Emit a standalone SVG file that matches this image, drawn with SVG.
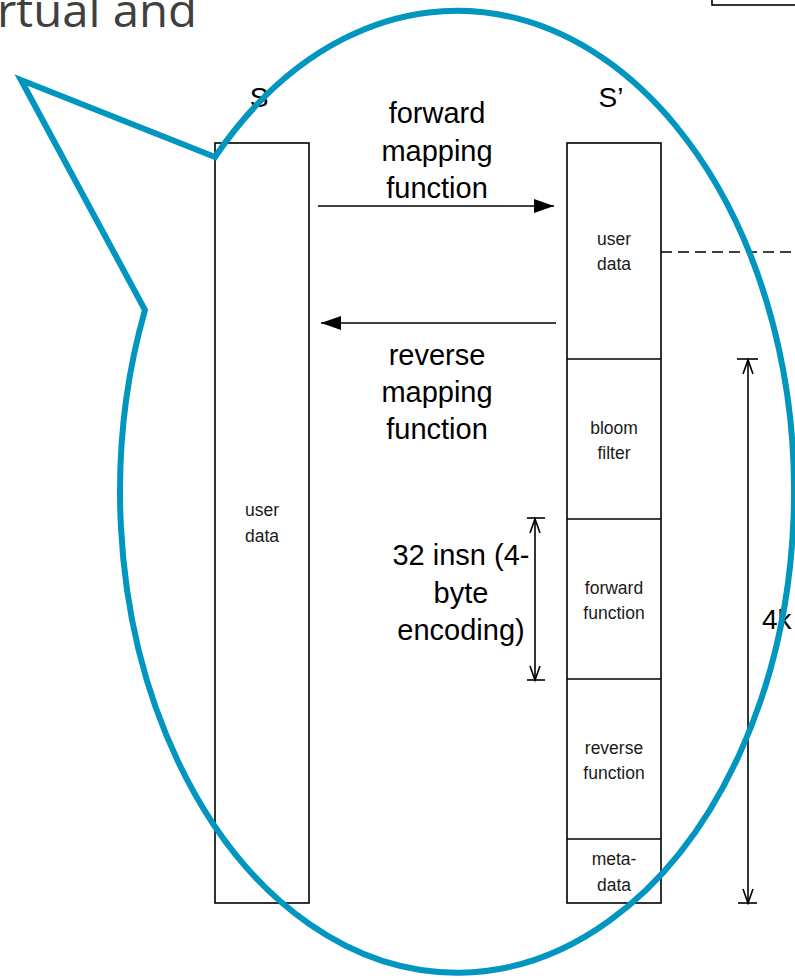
<svg xmlns="http://www.w3.org/2000/svg" width="795" height="980" viewBox="0 0 795 980">
  <style>
    .box { fill: #ffffff; stroke: #000000; stroke-width: 1.6; }
    .div { stroke: #000000; stroke-width: 1.6; }
    .small { font-family: "Liberation Sans", Arial, sans-serif; font-size: 17.5px; fill: #1a1a1a; text-anchor: middle; }
    .big { font-family: "Liberation Sans", Arial, sans-serif; font-size: 29px; fill: #000000; text-anchor: middle; }
    .side { font-family: "Liberation Sans", Arial, sans-serif; font-size: 28px; fill: #000000; text-anchor: start; }
    .wire { stroke: #000000; stroke-width: 1.6; fill: none; }
    .dim { stroke: #000000; stroke-width: 1.6; fill: none; }
    .callout { fill: none; stroke: #0096c0; stroke-width: 6; stroke-linejoin: miter; stroke-miterlimit: 10; }
    .title { font-family: "Open Sans", "Liberation Sans", sans-serif; font-size: 46px; fill: #404040; }
  </style>
  <defs>
    <marker id="solid" markerUnits="userSpaceOnUse" markerWidth="22" markerHeight="16" refX="20" refY="7" orient="auto">
      <path d="M0,0 L20,7 L0,14 Z" fill="#000000"/>
    </marker>
    <marker id="open" markerUnits="userSpaceOnUse" markerWidth="18" markerHeight="14" refX="15" refY="6" orient="auto-start-reverse">
      <path d="M1,1 L15,6 L1,11" fill="none" stroke="#000000" stroke-width="1.6"/>
    </marker>
  </defs>

  <!-- heading fragment and frame edge at the top -->
  <text class="title" x="-3" y="27" textLength="200" lengthAdjust="spacingAndGlyphs">rtual and</text>
  <rect x="712" y="-10" width="100" height="15" fill="none" stroke="#000000" stroke-width="1.6"/>

  <!-- space S -->
  <g id="space-s">
    <rect class="box" x="215" y="143" width="94" height="760"/>
    <text class="small" x="262" y="516">user</text>
    <text class="small" x="262" y="542">data</text>
    <text class="big" x="259" y="107" style="font-size:28px">S</text>
  </g>

  <!-- space S' with its layout -->
  <g id="space-s-prime">
    <rect class="box" x="567" y="143" width="94" height="760"/>
    <line class="div" x1="567" y1="359" x2="661" y2="359"/>
    <line class="div" x1="567" y1="519" x2="661" y2="519"/>
    <line class="div" x1="567" y1="679" x2="661" y2="679"/>
    <line class="div" x1="567" y1="839" x2="661" y2="839"/>
    <text class="big" x="611" y="107" style="font-size:28px">S’</text>
  </g>
  <g id="seg-user-data">
    <text class="small" x="614" y="245">user</text>
    <text class="small" x="614" y="270">data</text>
  </g>
  <g id="seg-bloom-filter">
    <text class="small" x="614" y="434">bloom</text>
    <text class="small" x="614" y="459">filter</text>
  </g>
  <g id="seg-forward-function">
    <text class="small" x="614" y="594">forward</text>
    <text class="small" x="614" y="619">function</text>
  </g>
  <g id="seg-reverse-function">
    <text class="small" x="614" y="754">reverse</text>
    <text class="small" x="614" y="779">function</text>
  </g>
  <g id="seg-metadata">
    <text class="small" x="614" y="865">meta-</text>
    <text class="small" x="614" y="891">data</text>
  </g>

  <!-- mapping arrows, dimension lines, guide -->
  <g id="connectors">
    <line class="wire" x1="318" y1="206" x2="554" y2="206" marker-end="url(#solid)"/>
    <line class="wire" x1="556" y1="323" x2="321" y2="323" marker-end="url(#solid)"/>
    <line class="dim" x1="535" y1="519" x2="535" y2="680" marker-start="url(#open)" marker-end="url(#open)"/>
    <line class="dim" x1="527" y1="518" x2="545" y2="518"/>
    <line class="dim" x1="527" y1="680" x2="545" y2="680"/>
    <line class="dim" x1="748" y1="360" x2="748" y2="903" marker-start="url(#open)" marker-end="url(#open)"/>
    <line class="dim" x1="737" y1="359" x2="758" y2="359"/>
    <line class="dim" x1="738" y1="903" x2="757" y2="903"/>
    <line x1="661" y1="252" x2="795" y2="252" stroke="#000000" stroke-width="1.6" stroke-dasharray="11 6"/>
  </g>

  <g id="labels">
    <text class="big" x="437" y="123">forward</text>
    <text class="big" x="437" y="161">mapping</text>
    <text class="big" x="437" y="198">function</text>
    <text class="big" x="437" y="365">reverse</text>
    <text class="big" x="437" y="402">mapping</text>
    <text class="big" x="437" y="439">function</text>
    <text class="big" x="461" y="565">32 insn (4-</text>
    <text class="big" x="461" y="603">byte</text>
    <text class="big" x="461" y="640">encoding)</text>
    <text class="side" x="762" y="629">4k</text>
  </g>

  <!-- speech-bubble callout drawn over the layout -->
  <g id="callout">
    <path class="callout" d="M215,157 L21,80 L145,310 A337,481 0 1 0 215,157 Z"/>
  </g>
</svg>
